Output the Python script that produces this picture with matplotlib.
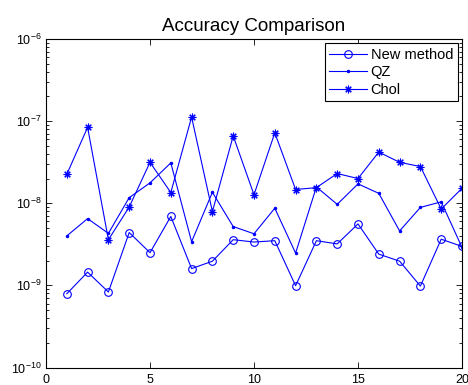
import numpy as np
import matplotlib
matplotlib.use("Agg")
import matplotlib.pyplot as plt
from matplotlib.ticker import LogLocator, FixedLocator

plt.rcParams["font.family"] = ["Liberation Sans", "DejaVu Sans"]
plt.rcParams["mathtext.fontset"] = "custom"
plt.rcParams["mathtext.rm"] = "Liberation Sans"
plt.rcParams["mathtext.it"] = "Liberation Sans:italic"

# sample index and errors
x = np.arange(1, 21)
new_method = [7.9e-10, 1.45e-9, 8.3e-10, 4.4e-9, 2.5e-9, 6.9e-9, 1.6e-9, 1.97e-9, 3.6e-9, 3.37e-9,
              3.5e-9, 9.9e-10, 3.5e-9, 3.2e-9, 5.6e-9, 2.4e-9, 1.97e-9, 9.8e-10, 3.65e-9, 2.98e-9]
qz = [4.0e-9, 6.5e-9, 4.3e-9, 1.17e-8, 1.77e-8, 3.1e-8, 3.4e-9, 1.36e-8, 5.2e-9, 4.25e-9,
      8.7e-9, 2.47e-9, 1.58e-8, 9.7e-9, 1.72e-8, 1.32e-8, 4.6e-9, 8.9e-9, 1.04e-8, 2.9e-9]
chol = [2.25e-8, 8.4e-8, 3.6e-9, 9.0e-9, 3.15e-8, 1.35e-8, 1.12e-7, 7.9e-9, 6.6e-8, 1.27e-8,
        7.2e-8, 1.47e-8, 1.55e-8, 2.3e-8, 2.0e-8, 4.2e-8, 3.15e-8, 2.8e-8, 8.5e-9, 1.52e-8]

fig = plt.figure(figsize=(4.68, 3.85), dpi=100)
ax = fig.add_axes([46 / 468, 1 - 367.5 / 385, 416 / 468, 328.5 / 385])

blue = (0, 0, 1)
asterisk = (8, 2, 0)  # matlab style '*'
ax.semilogy(x, new_method, color=blue, lw=0.8, marker="o", ms=5.5, mfc="none", mew=0.8, label="New method")
ax.semilogy(x, qz, color=blue, lw=0.8, marker=".", ms=3, label="QZ")
ax.semilogy(x, chol, color=blue, lw=0.8, marker=asterisk, ms=5.5, mew=0.8, label="Chol")

ax.set_xlim(0, 20)
ax.set_ylim(1e-10, 1e-6)
ax.xaxis.set_major_locator(FixedLocator([0, 5, 10, 15, 20]))
ax.yaxis.set_major_locator(LogLocator(base=10, numticks=10))
ax.yaxis.set_minor_locator(LogLocator(base=10, subs=np.arange(2, 10), numticks=10))
ax.tick_params(which="both", direction="in", top=True, right=True, labelsize=9, width=0.6)
ax.tick_params(which="major", length=4)
ax.tick_params(which="minor", length=2)
ax.tick_params(axis="x", pad=5)
ax.tick_params(axis="y", pad=3)
for s in ax.spines.values():
    s.set_linewidth(0.8)

ax.set_title("Accuracy Comparison", fontsize=13.5, pad=6)
leg = ax.legend(loc="upper right", fontsize=10.5, fancybox=False, edgecolor="k", framealpha=1,
                handlelength=2.6, handletextpad=0.25, labelspacing=0.25, borderpad=0.3,
                borderaxespad=0.3)
leg.get_frame().set_linewidth(0.8)

fig.savefig("out.png", dpi=100)
